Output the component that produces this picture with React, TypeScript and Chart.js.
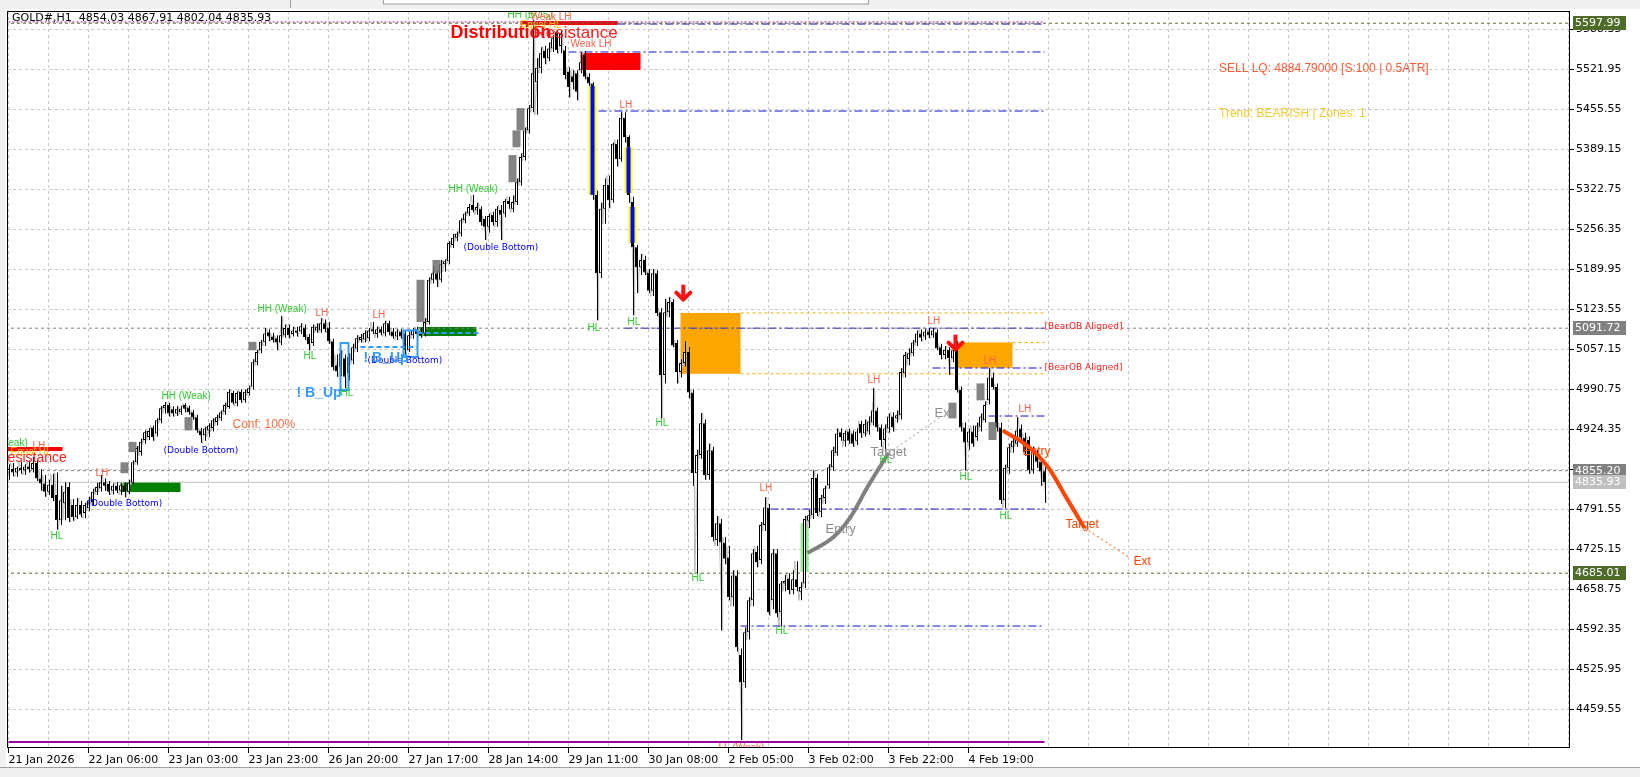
import React, { useEffect, useRef } from 'react';
import { Chart, registerables } from 'chart.js';
Chart.register(...registerables);

// ---------------- DATA ----------------
const headerText = 'GOLD#,H1  4854.03 4867.91 4802.04 4835.93';

const opens = [
  4852,4858,4852,4860,4856,4862,4858,4868,4842,4834,
  4820,4832,4815,4773,4801,4828,4798,4778,4798,4785,
  4793,4803,4820,4826,4836,4833,4822,4830,4822,4831,
  4820,4835,4869,4886,4906,4911,4927,4917,4939,4959,
  4964,4957,4950,4952,4964,4960,4952,4944,4922,4914,
  4922,4926,4936,4942,4953,4961,4984,4967,4986,4972,
  4984,4995,5035,5055,5069,5085,5078,5075,5068,5080,
  5092,5082,5088,5086,5093,5077,5067,5088,5088,5100,
  5093,5070,5030,5027,5042,5017,5038,5058,5072,5073,
  5075,5090,5082,5090,5083,5100,5086,5078,5086,5082,
  5055,5080,5090,5086,5083,5102,5172,5183,5172,5198,
  5203,5230,5242,5249,5271,5282,5296,5287,5290,5273,
  5260,5280,5268,5288,5282,5303,5290,5301,5334,5376,
  5420,5457,5500,5524,5552,5540,5556,5583,5560,5553,
  5517,5510,5515,5520,5545,5509,5498,5313,5183,5290,
  5330,5304,5398,5372,5441,5409,5301,5226,5193,5205,
  5184,5154,5183,5118,5014,5118,5135,5067,5019,5034,
  5052,4985,4851,4881,4934,4848,4889,4740,4768,4736,
  4711,4645,4681,4549,4504,4587,4640,4720,4707,4765,
  4794,4640,4718,4620,4668,4676,4657,4675,4654,4668,
  4772,4781,4843,4787,4810,4831,4861,4884,4919,4905,
  4920,4917,4905,4933,4917,4920,4935,4955,4927,4906,
  4925,4945,4942,4947,5017,5040,5050,5068,5083,5078,
  5086,5080,5085,5060,5047,5056,5042,5058,4989,4927,
  4902,4920,4911,4928,4939,4972,5010,4994,4927,4806,
  4860,4894,4900,4925,4910,4906,4856,4885,4870,4854.03
];
const highs = [
  4866,4868,4862,4870,4866,4872,4878,4872,4858,4848,
  4840,4850,4852,4830,4836,4836,4808,4810,4805,4802,
  4812,4825,4835,4848,4842,4838,4834,4836,4834,4836,
  4840,4872,4896,4908,4922,4926,4930,4942,4962,4969,
  4968,4962,4962,4963,4967,4963,4956,4948,4926,4928,
  4934,4942,4948,4955,4968,4990,4988,4987,4990,4990,
  4996,5040,5056,5072,5092,5090,5084,5080,5112,5098,
  5098,5094,5094,5100,5098,5082,5098,5100,5108,5106,
  5102,5074,5048,5055,5048,5050,5066,5080,5082,5088,
  5092,5102,5094,5095,5104,5104,5092,5090,5090,5086,
  5086,5092,5094,5092,5108,5176,5194,5188,5205,5206,
  5236,5248,5252,5274,5285,5298,5313,5300,5294,5278,
  5282,5285,5294,5296,5306,5310,5312,5340,5382,5425,
  5462,5603,5540,5558,5560,5566,5578,5586,5585,5560,
  5525,5520,5520,5550,5552,5515,5500,5320,5300,5340,
  5345,5400,5405,5450,5450,5412,5310,5230,5215,5212,
  5190,5190,5188,5125,5140,5143,5140,5072,5040,5070,
  5060,4990,4890,4951,4940,4900,4895,4780,4775,4745,
  4730,4690,4690,4560,4595,4645,4725,4730,4770,4811,
  4800,4725,4725,4672,4682,4685,4690,4705,4670,4780,
  4790,4856,4850,4815,4830,4866,4895,4925,4925,4922,
  4925,4922,4925,4938,4940,4945,4992,4960,4932,4932,
  4950,4952,4955,5025,5052,5058,5072,5088,5090,5090,
  5092,5092,5090,5066,5062,5060,5060,5070,4995,4935,
  4925,4930,4935,4950,4970,5025,5018,5000,4935,4865,
  4900,4915,4944,4932,4918,4912,4895,4890,4875,4867.91
];
const lows = [
  4840,4846,4845,4850,4848,4852,4852,4838,4822,4812,
  4815,4805,4757,4765,4773,4770,4772,4775,4778,4776,
  4788,4798,4815,4820,4822,4815,4816,4818,4815,4811,
  4816,4832,4865,4880,4900,4906,4905,4912,4934,4950,
  4945,4945,4946,4948,4952,4948,4940,4918,4901,4905,
  4911,4920,4930,4938,4948,4958,4965,4962,4968,4968,
  4980,4990,5030,5050,5062,5070,5068,5055,5064,5076,
  5075,5078,5078,5082,5072,5055,5062,5084,5084,5085,
  5066,5022,5011,5012,4992,5005,5032,5052,5068,5068,
  5070,5082,5076,5080,5078,5080,5074,5072,5074,5047,
  5052,5074,5076,5076,5078,5098,5166,5160,5168,5186,
  5198,5225,5236,5244,5266,5278,5284,5280,5262,5238,
  5250,5262,5260,5238,5276,5290,5284,5296,5328,5370,
  5415,5450,5446,5515,5530,5535,5550,5548,5548,5505,
  5475,5488,5470,5515,5505,5492,5305,5105,5175,5265,
  5291,5300,5360,5368,5400,5300,5113,5150,5180,5180,
  5150,5145,5112,4942,5000,5110,5060,5000,5010,5028,
  4975,4830,4685,4875,4840,4840,4738,4730,4590,4700,
  4640,4630,4555,4408,4495,4575,4630,4695,4700,4755,
  4615,4625,4612,4596,4655,4650,4650,4655,4640,4660,
  4760,4775,4780,4778,4800,4825,4855,4880,4905,4895,
  4900,4895,4898,4910,4912,4915,4930,4920,4895,4886,
  4918,4920,4935,4940,5010,5030,5045,5062,5070,5072,
  5075,5076,5055,5040,5040,5014,5035,4985,4920,4856,
  4890,4895,4905,4920,4935,4965,4990,4920,4800,4793,
  4850,4885,4895,4905,4880,4850,4850,4860,4830,4802.04
];
const closes = [
  4858,4852,4860,4856,4862,4858,4868,4842,4834,4820,
  4832,4810,4773,4806,4820,4776,4778,4798,4782,4798,
  4806,4820,4828,4836,4830,4820,4830,4822,4831,4820,
  4835,4869,4893,4903,4919,4921,4911,4939,4959,4964,
  4950,4950,4958,4958,4958,4952,4944,4922,4914,4925,
  4930,4939,4944,4952,4964,4986,4968,4984,4972,4986,
  4992,5035,5052,5069,5083,5078,5072,5068,5080,5092,
  5080,5088,5084,5095,5077,5065,5094,5094,5100,5090,
  5070,5027,5020,5050,5011,5044,5060,5075,5077,5084,
  5088,5086,5090,5084,5100,5085,5078,5086,5078,5055,
  5080,5088,5082,5080,5102,5172,5183,5172,5198,5203,
  5233,5242,5249,5271,5282,5293,5288,5293,5268,5260,
  5278,5268,5290,5280,5303,5298,5301,5334,5376,5420,
  5457,5515,5524,5548,5540,5556,5573,5553,5580,5512,
  5492,5500,5484,5533,5509,5498,5313,5183,5290,5330,
  5304,5398,5372,5441,5409,5313,5226,5193,5205,5184,
  5154,5183,5117,5014,5118,5135,5063,5019,5034,5052,
  4985,4851,4881,4934,4848,4889,4745,4768,4736,4709,
  4645,4681,4562,4504,4587,4640,4718,4703,4765,4794,
  4620,4718,4618,4668,4672,4657,4675,4662,4662,4775,
  4781,4843,4785,4810,4826,4861,4889,4917,4911,4918,
  4905,4900,4920,4917,4933,4937,4955,4927,4906,4925,
  4945,4927,4947,5019,5047,5050,5068,5083,5076,5086,
  5080,5088,5058,5047,5056,5042,5055,4989,4927,4902,
  4920,4900,4930,4945,4964,5010,4994,4927,4806,4860,
  4894,4905,4922,4910,4886,4856,4890,4870,4854,4835.93
];

const timeLabels = [
  '21 Jan 2026', '22 Jan 06:00', '23 Jan 03:00', '23 Jan 23:00', '26 Jan 20:00',
  '27 Jan 17:00', '28 Jan 14:00', '29 Jan 11:00', '30 Jan 08:00', '2 Feb 05:00',
  '3 Feb 02:00', '3 Feb 22:00', '4 Feb 19:00'
];
const priceTicks = [
  4459.55, 4525.95, 4592.35, 4658.75, 4725.15, 4791.55, 4857.95, 4924.35, 4990.75,
  5057.15, 5123.55, 5189.95, 5256.35, 5322.75, 5389.15, 5455.55, 5521.95, 5588.35
];

// horizontal price levels with right-axis tags
const taggedLevels = [5597.99, 5091.72, 4855.20, 4835.93, 4685.01];
const taggedKinds = ['olive', 'gray', 'gray', 'bid', 'olive'];

// dash-dot structure levels (from bar to last bar)
const structPrices = [5596.6, 5550.2, 5452.2, 5091.72, 5025.6, 4945.9, 4791.5, 4597.3];
const structStarts = [152.25, 140, 147.5, 154, 231, 245, 190.5, 183];
const obEdgePrices = [5117, 5016, 5068];
const obEdgeStarts = [183, 183, 251];
const lastBar = 259;
const topMarkerPrice = 5600;
const bottomMarkerPrice = 4404.8;

// zones (bar range, price range)
const zoneStarts = [168, 237.25, 128, 143, -1, 28, 102.5, 198];
const zoneEnds = [183, 251, 152.25, 158, 13.5, 43, 117, 200];
const zoneTops = [5117, 5068, 5601.5, 5548.5, 4894.5, 4836.4, 5093.7, 4768];
const zoneBottoms = [5016, 5026, 5595, 5520.3, 4887.8, 4819.8, 5078.7, 4687];
const zoneKinds = ['ob', 'ob', 'supply', 'supply', 'supply', 'demand', 'demand', 'signal'];

// imbalance candles (gray)
const imbBars = [31, 33, 47, 63, 105, 109, 128, 129, 130, 238, 245, 248];
const imbLow = [4851, 4886, 4922, 5055, 5102, 5183, 5334, 5392, 5420, 4942, 4972, 4906];
const imbHigh = [4869, 4903, 4944, 5069, 5172, 5205, 5379, 5420, 5457, 4968, 5000, 4936];

// displacement highlights
const dispBars = [146, 155, 156];
const dispTops = [5494, 5392, 5293];
const dispBottoms = [5313, 5316, 5233];

// breakout boxes
const boxStarts = [83, 98.75];
const boxEnds = [85, 102.25];
const boxTops = [5067, 5088];
const boxBottoms = [4989, 5044];
const boxLineStarts = [88, 102.25];
const boxLineEnds = [102.25, 118];
const boxLinePrices = [5060.5, 5083.7];

// projections
const bullPathBars = [199.75, 206.25, 210.5, 214.75, 220];
const bullPathPrices = [4718.5, 4745, 4778, 4828, 4884.5];
const bullExtBars = [220, 233];
const bullExtPrices = [4884.5, 4944];
const bearPathBars = [248.5, 255, 260, 264.5, 269];
const bearPathPrices = [4922, 4895, 4860, 4810, 4760];
const bearExtBars = [269, 280.5];
const bearExtPrices = [4760, 4710];

// signal arrows
const arrowBars = [168.7, 236.75];
const arrowPrices = [5135.7, 5052.7];

// text annotations
const noteTexts = [
  'HH (Weak)', 'LH', 'Equal HL', 'Resistance', 'LH', 'HL', '(Double Bottom)', 'Conf: 100%',
  'HH (Weak)', '(Double Bottom)', 'HH (Weak)', 'LH', 'HL', 'HL', 'LH', '(Double Bottom)',
  '! B_Up', '! B_Up', 'HH (Weak)', '(Double Bottom)', 'Distribution', 'HH (BOS)', 'Weak LH',
  'Equal HL', 'Resistance', 'Weak LH', 'LH', 'HL', 'HL', 'HL', 'HL', 'LH', 'HL', 'LL (Weak)',
  'LH', 'LH', 'HL', 'Target', 'Entry', 'Ext', 'HL', 'LH', 'LH', 'HL', 'Entry', 'Target', 'Ext',
  '[BearOB Aligned]', '[BearOB Aligned]'
];
const noteBars = [
  -7.5, 6, 0.5, -2.75, 21.75, 10.5, 19.75, 56,
  38.25, 38.75, 62.25, 76.75, 73.75, 83, 91, 89.75,
  88.75, 72, 110, 113.75, 110.5, 124.75, 130.5,
  128, 131.25, 140.5, 152.75, 144.75, 154.75, 161.75, 170.75, 187.75, 191.75, 177.5,
  229.75, 214.75, 217.75, 215.5, 204.25, 231.5, 237.75, 243.75, 252.5, 247.75, 253.5, 264.25, 281.25,
  259, 259
];
const notePrices = [
  4901, 4896, 4886, 4876, 4851, 4746, 4801, 4931,
  4979, 4889, 5123.5, 5117, 5045.5, 4984, 5113.6, 5037,
  5042, 4984, 5322.75, 5226, 5582, 5611.5, 5608,
  5595, 5582, 5563.5, 5462, 5092, 5102, 4934, 4677, 4826, 4589, 4395,
  5103.6, 5005.7, 4873, 4886, 4758, 4951, 4844.7, 5037, 4957.5, 4780, 4886, 4765, 4703.6,
  5093.6, 5025.6
];
const noteKinds = [
  'hl', 'lh', 'eq', 'res', 'lh', 'hl', 'db', 'conf',
  'hl', 'db', 'hl', 'lh', 'hl', 'hl', 'lh', 'db',
  'bu', 'bu', 'hl', 'db', 'dist', 'hl', 'lh',
  'eq', 'resBig', 'lh', 'lh', 'hl', 'hl', 'hl', 'hl', 'lh', 'hl', 'lh',
  'lh', 'lh', 'hl', 'proj', 'proj', 'proj', 'hl', 'lh', 'lh', 'hl', 'projR', 'projR', 'projR',
  'ob', 'ob'
];

const panelLines = ['SELL LQ: 4884.79000 [S:100 | 0.5ATR]', 'Trend: BEARISH | Zones: 1'];

// ---------------- STYLE ----------------
const Y_MIN = 4394.82;
const Y_MAX = 5618.23;
const X_MIN = -0.375;
const X_MAX = 390.375;

const noteStyle: Record<string, { color: string; font: string }> = {
  hl: { color: '#2ecc2e', font: '10px "Liberation Sans"' },
  lh: { color: '#ff6347', font: '10px "Liberation Sans"' },
  eq: { color: '#ffc000', font: '10px "Liberation Sans"' },
  db: { color: '#0000ff', font: '9px "DejaVu Sans"' },
  res: { color: '#ff2020', font: '14px "Liberation Sans"' },
  resBig: { color: '#ff2020', font: '17px "Liberation Sans"' },
  dist: { color: '#ff0000', font: 'bold 18px "Liberation Sans"' },
  conf: { color: '#ff6a3d', font: '12px "Liberation Sans"' },
  bu: { color: '#3399ff', font: 'bold 14px "Liberation Sans"' },
  proj: { color: '#8c8c8c', font: '13px "Liberation Sans"' },
  projR: { color: '#ff4500', font: '12px "Liberation Sans"' },
  ob: { color: '#ff2020', font: '9px "DejaVu Sans"' },
};
const zoneColor: Record<string, string> = {
  ob: '#ffa500', supply: '#ff0000', demand: '#008000', signal: '#90ee90',
};

function drawArrow(ctx: CanvasRenderingContext2D, x: number, yTip: number) {
  ctx.save();
  ctx.strokeStyle = '#ff1010';
  ctx.fillStyle = '#ff1010';
  ctx.fillRect(x - 2, yTip - 17, 4, 12);
  ctx.lineWidth = 4;
  ctx.lineCap = 'round';
  ctx.lineJoin = 'round';
  ctx.beginPath();
  ctx.moveTo(x - 7, yTip - 9);
  ctx.lineTo(x, yTip - 2);
  ctx.lineTo(x + 7, yTip - 9);
  ctx.stroke();
  ctx.restore();
}

const overlayPlugin = {
  id: 'mtOverlay',
  beforeDraw(chart: any) {
    const { ctx, width, height } = chart;
    ctx.save();
    ctx.fillStyle = '#ffffff';
    ctx.fillRect(0, 0, width, height);
    ctx.fillStyle = '#f0f0f0';
    ctx.fillRect(0, 0, width, 9);
    ctx.fillRect(0, 0, 6, height);
    ctx.fillRect(0, 767, width, height - 767);
    ctx.strokeStyle = '#a0a0a0';
    ctx.lineWidth = 1;
    ctx.beginPath();
    ctx.moveTo(0, 767.5); ctx.lineTo(width, 767.5);
    ctx.moveTo(290.5, 0); ctx.lineTo(290.5, 8);
    ctx.stroke();
    ctx.fillStyle = '#ffffff';
    ctx.fillRect(383, 0, 485, 4);
    ctx.strokeRect(383.5, -1, 485, 5);
    ctx.restore();
  },
  beforeDatasetsDraw(chart: any) {
    const { ctx, chartArea, scales } = chart;
    const xs = scales.x, ys = scales.y;
    ctx.save();
    ctx.beginPath();
    ctx.rect(chartArea.left, chartArea.top, chartArea.right - chartArea.left, chartArea.bottom - chartArea.top);
    ctx.clip();
    for (let i = 0; i < zoneStarts.length; i++) {
      const x0 = xs.getPixelForValue(zoneStarts[i]);
      const x1 = xs.getPixelForValue(zoneEnds[i]);
      const y0 = ys.getPixelForValue(zoneTops[i]);
      const y1 = ys.getPixelForValue(zoneBottoms[i]);
      ctx.fillStyle = zoneColor[zoneKinds[i]];
      ctx.fillRect(x0, y0, x1 - x0, y1 - y0);
    }
    ctx.restore();
  },
  afterDatasetsDraw(chart: any) {
    const { ctx, chartArea, scales } = chart;
    const xs = scales.x, ys = scales.y;
    ctx.save();
    ctx.beginPath();
    ctx.rect(chartArea.left, chartArea.top, chartArea.right - chartArea.left, chartArea.bottom - chartArea.top);
    ctx.clip();
    for (let i = 0; i < dispBars.length; i++) {
      const xc = xs.getPixelForValue(dispBars[i]);
      const y0 = ys.getPixelForValue(dispTops[i]);
      const y1 = ys.getPixelForValue(dispBottoms[i]);
      ctx.fillStyle = '#ffff00';
      ctx.fillRect(xc - 4, y0, 8, y1 - y0);
      ctx.fillStyle = '#0000ff';
      ctx.fillRect(xc - 2, y0, 4, y1 - y0);
    }
    ctx.strokeStyle = '#3399ff';
    ctx.lineWidth = 2;
    for (let i = 0; i < boxStarts.length; i++) {
      const x0 = xs.getPixelForValue(boxStarts[i]);
      const x1 = xs.getPixelForValue(boxEnds[i]);
      const y0 = ys.getPixelForValue(boxTops[i]);
      const y1 = ys.getPixelForValue(boxBottoms[i]);
      ctx.strokeRect(x0, y0, x1 - x0, y1 - y0);
    }
    ctx.setLineDash([5, 3]);
    for (let i = 0; i < boxLineStarts.length; i++) {
      const y = ys.getPixelForValue(boxLinePrices[i]);
      ctx.beginPath();
      ctx.moveTo(xs.getPixelForValue(boxLineStarts[i]), y);
      ctx.lineTo(xs.getPixelForValue(boxLineEnds[i]), y);
      ctx.stroke();
    }
    ctx.setLineDash([]);
    for (let i = 0; i < arrowBars.length; i++) {
      drawArrow(ctx, xs.getPixelForValue(arrowBars[i]), ys.getPixelForValue(arrowPrices[i]));
    }
    ctx.textBaseline = 'middle';
    ctx.textAlign = 'left';
    for (let i = 0; i < noteTexts.length; i++) {
      const st = noteStyle[noteKinds[i]];
      ctx.font = st.font;
      ctx.fillStyle = st.color;
      ctx.fillText(noteTexts[i], xs.getPixelForValue(noteBars[i]), ys.getPixelForValue(notePrices[i]));
    }
    ctx.restore();
  },
  afterDraw(chart: any) {
    const { ctx, chartArea, scales } = chart;
    const ys = scales.y;
    ctx.save();
    ctx.strokeStyle = '#000000';
    ctx.lineWidth = 1;
    ctx.strokeRect(chartArea.left + 0.5, chartArea.top + 0.5, chartArea.right - chartArea.left - 1, chartArea.bottom - chartArea.top - 1);
    ctx.font = '11px "DejaVu Sans"';
    ctx.textBaseline = 'middle';
    ctx.textAlign = 'left';
    for (let i = 0; i < taggedLevels.length; i++) {
      const y = Math.round(ys.getPixelForValue(taggedLevels[i]));
      const k = taggedKinds[i];
      ctx.fillStyle = k === 'olive' ? '#4f6b2a' : k === 'gray' ? '#808080' : '#c0c0c0';
      ctx.fillRect(chartArea.right + 3, y - 7, 53, 14);
      ctx.fillStyle = '#ffffff';
      ctx.fillText(taggedLevels[i].toFixed(2), chartArea.right + 5, y + 0.5);
    }
    ctx.fillStyle = '#000000';
    ctx.font = '11px "DejaVu Sans"';
    ctx.fillText(headerText, chartArea.left + 5, chartArea.top + 7);
    ctx.font = '12px "Liberation Sans"';
    ctx.fillStyle = '#ff5a36';
    ctx.fillText(panelLines[0], 1219, 69);
    ctx.fillStyle = '#f2cc33';
    ctx.fillText(panelLines[1], 1219, 114);
    ctx.restore();
  },
};

function hLine(p: number, a: number, b: number, color: string, dash: number[], width = 1, order = 9) {
  return {
    type: 'line' as const,
    data: [{ x: a, y: p }, { x: b, y: p }],
    borderColor: color,
    borderWidth: width,
    borderDash: dash,
    pointRadius: 0,
    order,
  };
}

export default function App() {
  const canvasRef = useRef<HTMLCanvasElement | null>(null);

  useEffect(() => {
    const canvas = canvasRef.current;
    if (!canvas) return;
    const idx = closes.map((_, i) => i);

    // intrabar path trace: bull bars visit low then high, bear bars high then low
    const trace: { x: number; y: number }[] = [];
    idx.forEach(i => {
      const bull = closes[i] >= opens[i];
      trace.push({ x: i - 0.45, y: bull ? lows[i] : highs[i] });
      trace.push({ x: i + 0.45, y: bull ? highs[i] : lows[i] });
    });

    const datasets: any[] = [];
    datasets.push({ type: 'line', data: trace, borderColor: '#bdbdbd', borderWidth: 1, pointRadius: 0, order: 12 });
    taggedLevels.forEach((p, i) => {
      const k = taggedKinds[i];
      if (k === 'olive') datasets.push(hLine(p, X_MIN - 2, X_MAX + 2, '#556b2f', [3, 3], 1, 10));
      else if (k === 'gray') datasets.push(hLine(p, X_MIN - 2, X_MAX + 2, '#808080', [3, 3], 1, 10));
      else datasets.push(hLine(p, X_MIN - 2, X_MAX + 2, '#c0c0c0', [], 1, 10));
    });
    datasets.push(hLine(topMarkerPrice, 0, lastBar, '#a020a0', [2, 2], 1, 10));
    datasets.push(hLine(bottomMarkerPrice, 0, lastBar, '#a000a0', [], 2, 10));
    structPrices.forEach((p, i) => datasets.push(hLine(p, structStarts[i], lastBar, '#1010d0', [8, 3, 2, 3], 1, 10)));
    obEdgePrices.forEach((p, i) => datasets.push(hLine(p, obEdgeStarts[i], lastBar, '#ffa500', [3, 3], 1, 10)));

    datasets.push({
      type: 'bar',
      data: idx.map(i => ({ x: i, y: [lows[i], highs[i]] })),
      backgroundColor: '#000000',
      barThickness: 1,
      borderWidth: 0,
      inflateAmount: 0,
      order: 6,
    });
    datasets.push({
      type: 'bar',
      data: idx.map(i => ({ x: i, y: [opens[i], closes[i]] })),
      backgroundColor: idx.map(i => (closes[i] >= opens[i] ? '#ffffff' : '#000000')),
      borderColor: '#000000',
      borderWidth: 1,
      borderSkipped: false,
      barThickness: 3,
      minBarLength: 1,
      inflateAmount: 0,
      order: 5,
    });
    datasets.push({
      type: 'bar',
      data: imbBars.map((b, i) => ({ x: b, y: [imbLow[i], imbHigh[i]] })),
      backgroundColor: 'rgba(110,110,110,0.85)',
      borderWidth: 0,
      barThickness: 8,
      inflateAmount: 0,
      order: 4,
    });
    datasets.push({ type: 'line', data: bullPathBars.map((b, i) => ({ x: b, y: bullPathPrices[i] })), borderColor: '#808080', borderWidth: 4, pointRadius: 0, cubicInterpolationMode: 'monotone', order: 3 });
    datasets.push({ type: 'line', data: bullExtBars.map((b, i) => ({ x: b, y: bullExtPrices[i] })), borderColor: '#909090', borderWidth: 1, borderDash: [2, 3], pointRadius: 0, order: 3 });
    datasets.push({ type: 'line', data: bearPathBars.map((b, i) => ({ x: b, y: bearPathPrices[i] })), borderColor: '#ff4500', borderWidth: 4, pointRadius: 0, cubicInterpolationMode: 'monotone', order: 3 });
    datasets.push({ type: 'line', data: bearExtBars.map((b, i) => ({ x: b, y: bearExtPrices[i] })), borderColor: '#ff4500', borderWidth: 1, borderDash: [2, 3], pointRadius: 0, order: 3 });

    const gridBars: number[] = [];
    for (let v = 0; v <= 390; v += 10) gridBars.push(v);

    const chart = new Chart(canvas, {
      type: 'bar',
      data: { datasets },
      options: {
        animation: false,
        responsive: false,
        maintainAspectRatio: false,
        events: [],
        layout: { padding: { left: 7, top: 11, right: 0, bottom: 0 } },
        plugins: { legend: { display: false }, tooltip: { enabled: false } },
        scales: {
          x: {
            type: 'linear',
            min: X_MIN,
            max: X_MAX,
            offset: false,
            afterBuildTicks: (s: any) => { s.ticks = gridBars.map(v => ({ value: v })); },
            afterFit: (s: any) => { s.height = 29; },
            grid: {
              offset: false,
              color: '#c8c8c8',
              lineWidth: 1,
              drawTicks: true,
              tickLength: 5,
              tickColor: (c: any) => (c.tick && c.tick.value % 20 === 0 && c.tick.value / 20 < timeLabels.length ? '#000000' : 'rgba(0,0,0,0)'),
            },
            border: { display: false, dash: [3, 3] },
            ticks: {
              autoSkip: false,
              maxRotation: 0,
              minRotation: 0,
              align: 'start',
              padding: 1,
              color: '#000000',
              font: { family: 'DejaVu Sans', size: 11 },
              callback: (v: any) => {
                const k = Number(v) / 20;
                return Number.isInteger(k) && k < timeLabels.length ? timeLabels[k] : '';
              },
            },
          },
          y: {
            type: 'linear',
            position: 'right',
            min: Y_MIN,
            max: Y_MAX,
            beginAtZero: false,
            afterBuildTicks: (s: any) => { s.ticks = priceTicks.map(v => ({ value: v })); },
            afterFit: (s: any) => { s.width = 70; },
            grid: { color: '#c8c8c8', lineWidth: 1, tickLength: 4, tickColor: '#000000' },
            border: { display: false, dash: [3, 3] },
            ticks: {
              autoSkip: false,
              padding: 2,
              color: '#000000',
              font: { family: 'DejaVu Sans', size: 11 },
              callback: (v: any) => Number(v).toFixed(2),
            },
          },
        },
      } as any,
      plugins: [overlayPlugin],
    });
    return () => chart.destroy();
  }, []);

  return (
    <div style={{ position: 'fixed', left: 0, top: 0, width: 1640, height: 777, background: '#ffffff' }}>
      <canvas ref={canvasRef} width={1640} height={777} style={{ width: 1640, height: 777, display: 'block' }} />
    </div>
  );
}
